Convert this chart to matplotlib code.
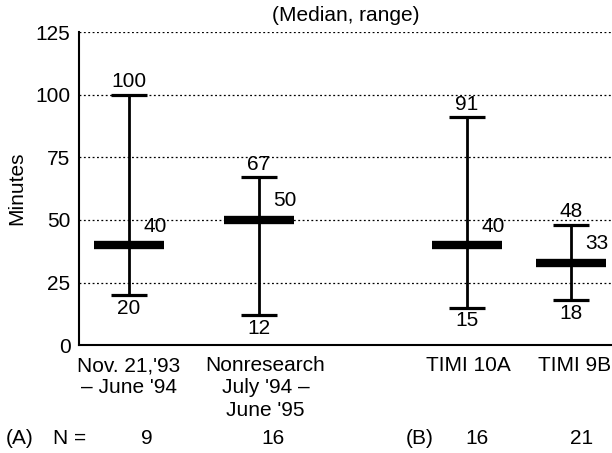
import matplotlib.pyplot as plt
from matplotlib.transforms import blended_transform_factory

plt.rcParams['font.family'] = ['Liberation Sans', 'DejaVu Sans']
FS = 15

groups = ["Nov. 21,'93\n\u2013 June '94", "Nonresearch\nJuly '94 \u2013\nJune '95",
          "TIMI 10A", "TIMI 9B"]
medians = [40, 50, 40, 33]
lows = [20, 12, 15, 18]
highs = [100, 67, 91, 48]
n_values = ["9", "16", "16", "21"]

xpos = [1, 2, 3.6, 4.4]
label_xpos = [1.0, 2.05, 3.61, 4.43]
n_xpos = [1.14, 2.11, 3.68, 4.48]

fig = plt.figure(figsize=(6.12, 4.53), dpi=100)
ax = fig.add_axes([0.129, 0.238, 0.871, 0.691])

cap_w = 0.136
med_w = 0.272
for x, m, lo, hi in zip(xpos, medians, lows, highs):
    ax.vlines(x, lo, hi, color='black', lw=2.0)
    ax.hlines([lo, hi], x - cap_w, x + cap_w, color='black', lw=2.3)
    ax.hlines(m, x - med_w, x + med_w, color='black', lw=6)
    ax.annotate(str(hi), (x, hi), xytext=(0, 13), textcoords='offset pixels',
                ha='center', va='center', fontsize=FS)
    ax.annotate(str(lo), (x, lo), xytext=(0, -13), textcoords='offset pixels',
                ha='center', va='center', fontsize=FS)
    ax.annotate(str(m), (x, m), xytext=(26, 19), textcoords='offset pixels',
                ha='center', va='center', fontsize=FS)

ax.set_xlim(0.615, 4.715)
ax.set_ylim(0, 125)
ax.set_yticks([0, 25, 50, 75, 100, 125])
ax.yaxis.grid(True, linestyle=(0, (1.5, 2)), color='black', lw=0.9)
ax.set_axisbelow(True)
ax.set_xticks([])
ax.tick_params(axis='both', length=0, labelsize=FS)
ax.tick_params(axis='y', pad=6)
ax.set_ylabel('Minutes', fontsize=FS, labelpad=7)

for side in ['top', 'right']:
    ax.spines[side].set_visible(False)
for side in ['left', 'bottom']:
    ax.spines[side].set_linewidth(1.5)

# group names and sample sizes under the axis
trans = blended_transform_factory(ax.transData, fig.transFigure)
for x, name in zip(label_xpos, groups):
    ax.text(x, 1 - 356 / 453, name, transform=trans, ha='center', va='top',
            fontsize=FS, linespacing=1.22)

row_y = 1 - 438 / 453
ax.text(20 / 612, row_y, '(A)', transform=fig.transFigure,
        ha='center', va='center', fontsize=FS)
ax.text(70 / 612, row_y, 'N =', transform=fig.transFigure,
        ha='center', va='center', fontsize=FS)
ax.text(420 / 612, row_y, '(B)', transform=fig.transFigure,
        ha='center', va='center', fontsize=FS)
for x, n in zip(n_xpos, n_values):
    ax.text(x, row_y, n, transform=trans, ha='center', va='center', fontsize=FS)

ax.set_title('(Median, range)', fontsize=FS, pad=8)

fig.savefig('out.png', dpi=100)
